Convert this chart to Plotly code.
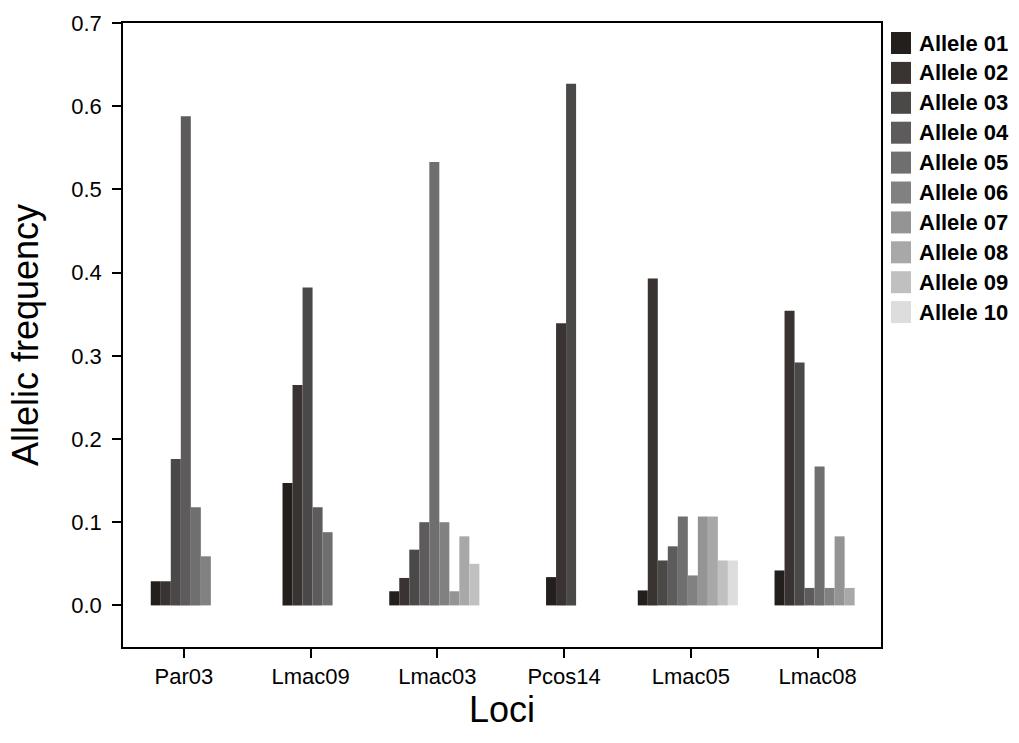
import plotly.graph_objects as go

# ---------------- data ----------------
loci = ["Par03", "Lmac09", "Lmac03", "Pcos14", "Lmac05", "Lmac08"]
allele_names = ["Allele 01", "Allele 02", "Allele 03", "Allele 04", "Allele 05",
                "Allele 06", "Allele 07", "Allele 08", "Allele 09", "Allele 10"]
allele_01 = [0.029, 0.147, 0.017, 0.034, 0.018, 0.042]
allele_02 = [0.029, 0.265, 0.033, 0.339, 0.393, 0.354]
allele_03 = [0.176, 0.382, 0.067, 0.627, 0.054, 0.292]
allele_04 = [0.588, 0.118, 0.100, None, 0.071, 0.021]
allele_05 = [0.118, 0.088, 0.533, None, 0.107, 0.167]
allele_06 = [0.059, None, 0.100, None, 0.036, 0.021]
allele_07 = [None, None, 0.017, None, 0.107, 0.083]
allele_08 = [None, None, 0.083, None, 0.107, 0.021]
allele_09 = [None, None, 0.050, None, 0.054, None]
allele_10 = [None, None, None, None, 0.054, None]
y_ticks = [0.0, 0.1, 0.2, 0.3, 0.4, 0.5, 0.6, 0.7]

series = [allele_01, allele_02, allele_03, allele_04, allele_05,
          allele_06, allele_07, allele_08, allele_09, allele_10]

# ---------------- style ----------------
colors = ["#231f1c", "#393432", "#4b4848", "#5d5b5b", "#706f6f",
          "#828181", "#959494", "#a9a8a8", "#c1c0c0", "#dedddd"]
bar_w = 0.079
shift = -0.024
FONT = "Liberation Sans, Arial, sans-serif"

W, H = 1019, 743
L, R, T, B = 123, 881, 23, 647

# number of alleles present at each locus
n_alleles = [sum(1 for s in series if s[i] is not None) for i in range(len(loci))]

fig = go.Figure()
for k, (name, vals, col) in enumerate(zip(allele_names, series, colors)):
    offsets = [(k - n_alleles[i] / 2) * bar_w + shift for i in range(len(loci))]
    fig.add_trace(go.Bar(
        x=loci, y=vals, name=name,
        width=[bar_w] * len(loci), offset=offsets,
        marker=dict(color=col, line=dict(width=0)),
        showlegend=False,
    ))

# custom legend (swatch + bold label)
pw, ph = R - L, B - T
for k, (name, col) in enumerate(zip(allele_names, colors)):
    cy = 43 + 29.9 * k
    fig.add_shape(type="rect", xref="paper", yref="paper",
                  x0=(891 - L) / pw, x1=(911 - L) / pw,
                  y0=(B - (cy + 11)) / ph, y1=(B - (cy - 11)) / ph,
                  fillcolor=col, line=dict(width=0))
    fig.add_annotation(xref="paper", yref="paper",
                       x=(917 - L) / pw, y=(B - cy) / ph,
                       xanchor="left", yanchor="middle", showarrow=False,
                       text="<b>%s</b>" % name,
                       font=dict(family=FONT, size=22, color="black"))

fig.update_layout(
    width=W, height=H,
    margin=dict(l=L, r=W - R, t=T, b=H - B, pad=0),
    paper_bgcolor="white", plot_bgcolor="white",
    barmode="overlay",
    font=dict(family=FONT, color="black"),
    showlegend=False,
)
fig.update_xaxes(
    range=[-0.48, 5.5],
    showline=True, linecolor="black", linewidth=1.5, mirror=True,
    ticks="outside", ticklen=9, tickcolor="black", tickwidth=1.5,
    tickfont=dict(size=22, family=FONT, color="black"),
    showgrid=False, zeroline=False,
    title=dict(text="Loci", font=dict(size=36, family=FONT), standoff=6),
)
fig.update_yaxes(
    range=[-0.05, 0.7],
    tickvals=y_ticks, ticktext=["%.1f" % v for v in y_ticks],
    showline=True, linecolor="black", linewidth=1.5, mirror=True,
    ticks="outside", ticklen=9, tickcolor="black", tickwidth=1.5,
    tickfont=dict(size=22, family=FONT, color="black"),
    ticklabelstandoff=6,
    showgrid=False, zeroline=False,
    title=dict(text="Allelic frequency", font=dict(size=36, family=FONT), standoff=22),
)

fig.write_html(
    "out.html",
    config={"displayModeBar": False},
    post_script="document.body.style.margin='0';"
                "document.documentElement.style.overflow='hidden';",
)
